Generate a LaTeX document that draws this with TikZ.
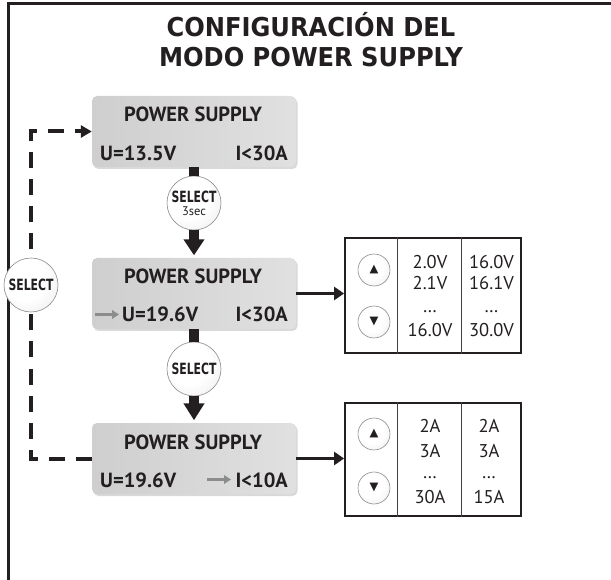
\documentclass[tikz,border=0pt]{standalone}
\usepackage{fontspec}
\setmainfont{PT Sans}
\newfontfamily\ttlfont{DejaVu Sans}[FakeStretch=0.93]
\newfontfamily\selfont{DejaVu Sans}[FakeStretch=0.70]
\newfontfamily\symfont{DejaVu Sans}
\usetikzlibrary{arrows.meta,shadows,calc}
\pgfdeclarelayer{bg}
\pgfsetlayers{bg,main}
\pgfdeclareradialshading{ballsh}{\pgfpoint{-8bp}{8bp}}{color(0bp)=(white); color(20bp)=(white); color(40bp)=(black!8); color(50bp)=(black!28); color(70bp)=(black!30)}
\definecolor{ink}{RGB}{35,31,32}
\begin{document}
\begin{tikzpicture}[x=1pt,y=-1pt,
  lcd/.style={rounded corners=5pt, minimum width=204pt, minimum height=71pt, inner sep=0pt,
    left color=black!19, right color=black!12,
    drop shadow={opacity=0.3, shadow xshift=1.5pt, shadow yshift=-2pt}},
  ball/.style={circle, minimum size=54pt, inner sep=0pt, draw=black!45, line width=0.6pt,
    shading=ballsh, align=center, text=ink},
  btn/.style={circle, minimum size=32pt, inner sep=0pt, draw=black!45, line width=0.6pt,
    shading=ballsh, text=ink, font=\symfont\fontsize{11.5}{11.5}\selectfont},
  ptitle/.style={anchor=base, inner sep=0pt, text=ink, font=\bfseries\fontsize{20.5}{24}\selectfont},
  pval/.style={inner sep=0pt, text=ink, font=\bfseries\fontsize{20.5}{24}\selectfont},
  cell/.style={anchor=base, inner sep=0pt, text=ink, font=\fontsize{18.5}{20}\selectfont},
  tabbox/.style={draw=ink, line width=1.8pt, minimum width=176pt, inner sep=0pt},
  divider/.style={draw=black!75, line width=1pt},
  garrow/.style={draw=black!45, line width=2.5pt, -{Triangle[length=7pt,width=8.5pt]}},
  dashc/.style={draw=ink, line width=4pt, dash pattern=on 16pt off 11pt, line join=miter,
    -{Triangle[length=11pt,width=12pt]}},
  tarrow/.style={draw=ink, line width=3pt, -{Triangle[length=10pt,width=13pt]}},
  thickc/.style={draw=ink, line width=10pt},
  selt/.style={font=\selfont\bfseries\fontsize{15.5}{15}\selectfont}
]
\useasboundingbox (0,0) rectangle (611,580);

% frame
\draw[line width=3pt, ink] (8,580) -- (8,4) -- (611,4);

% title
\node[anchor=base, inner sep=0pt, text=ink, font=\ttlfont\bfseries\fontsize{26}{30}\selectfont] (title1) at (311,37) {CONFIGURACIÓN DEL};
\node[anchor=base, inner sep=0pt, text=ink, font=\ttlfont\bfseries\fontsize{26}{30}\selectfont] (title2) at (311,67) {MODO POWER SUPPLY};

% LCD boxes
\node[lcd] (b1) at (194,131.5) {};
\node[ptitle] (b1t) at (193,122) {POWER SUPPLY};
\node[pval, anchor=base west] (b1u) at (100,161) {U=13.5V};
\node[pval, anchor=base east] (b1i) at (288,161) {I<30A};

\node[lcd] (b2) at (194,293.5) {};
\node[ptitle] (b2t) at (193,284) {POWER SUPPLY};
\node[pval, anchor=base west] (b2u) at (122,322) {U=19.6V};
\node[pval, anchor=base east] (b2i) at (288,322) {I<30A};
\coordinate (g1s) at (95,314.5);
\coordinate (g1e) at (119,314.5);
\draw[garrow] (g1s) -- (g1e);

\node[lcd] (b3) at (194,458.5) {};
\node[ptitle] (b3t) at (193,449) {POWER SUPPLY};
\node[pval, anchor=base west] (b3u) at (100,487) {U=19.6V};
\node[pval, anchor=base east] (b3i) at (288,487) {I<10A};
\coordinate (g2s) at (207,479.5);
\coordinate (g2e) at (231,479.5);
\draw[garrow] (g2s) -- (g2e);

% select buttons
\node[ball] (sel1) at (194,203) {{\selfont\bfseries\fontsize{15.5}{15}\selectfont SELECT}\\[1pt]{\fontsize{12.5}{12}\selectfont 3sec}};
\node[ball, selt] (sel2) at (194,369) {SELECT};
\node[ball, selt] (sel3) at (31,285) {SELECT};

% vertical thick connectors
\draw[thickc] (b1.south) -- (sel1.north);
\draw[thickc, -{Triangle[length=16pt,width=20pt]}, shorten >=2.5pt] (sel1.south) -- (b2.north);
\draw[thickc] (b2.south) -- (sel2.north);
\draw[thickc, -{Triangle[length=17pt,width=20pt]}, shorten >=2.5pt] (sel2.south) -- (b3.north);

% dashed return path
\begin{pgfonlayer}{bg}
\draw[dashc] (b3.west) -- ++(-61,0) |- (b1.west);
\end{pgfonlayer}

% tables
\node[tabbox, minimum height=115pt] (tab1) at (433,295.5) {};
\draw[divider] ($(tab1.north west)+(53,0)$) -- ($(tab1.south west)+(53,0)$);
\draw[divider] ($(tab1.north west)+(117,0)$) -- ($(tab1.south west)+(117,0)$);
\node[tabbox, minimum height=113pt] (tab2) at (433,459.5) {};
\draw[divider] ($(tab2.north west)+(53,0)$) -- ($(tab2.south west)+(53,0)$);
\draw[divider] ($(tab2.north west)+(117,0)$) -- ($(tab2.south west)+(117,0)$);

\draw[tarrow] (b2.east) -- (b2.east -| tab1.west);
\draw[tarrow] (b3.east) -- (b3.east -| tab2.west);

% up/down buttons
\node[btn] (up1) at (374,270) {▲};
\node[btn] (dn1) at (374,322) {▼};
\node[btn] (up2) at (374,434) {▲};
\node[btn] (dn2) at (374,488) {▼};

% table 1 cells
\node[cell] (c11) at (430,269) {2.0V};
\node[cell] (c12) at (430,290) {2.1V};
\node[cell] (c13) at (430,313) {…};
\node[cell] (c14) at (430,337) {16.0V};
\node[cell] (c21) at (491.5,269) {16.0V};
\node[cell] (c22) at (491.5,290) {16.1V};
\node[cell] (c23) at (491.5,313) {…};
\node[cell] (c24) at (491.5,337) {30.0V};

% table 2 cells
\node[cell] (d11) at (430,432) {2A};
\node[cell] (d12) at (430,457) {3A};
\node[cell] (d13) at (430,478) {…};
\node[cell] (d14) at (430,503) {30A};
\node[cell] (d21) at (489,432) {2A};
\node[cell] (d22) at (489,457) {3A};
\node[cell] (d23) at (489,478) {…};
\node[cell] (d24) at (489,503) {15A};
\end{tikzpicture}
\end{document}
